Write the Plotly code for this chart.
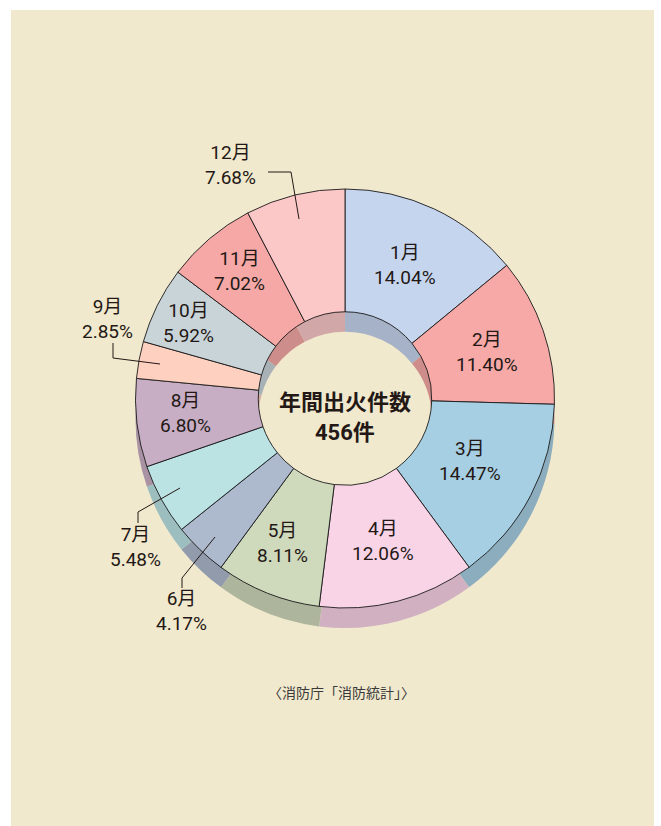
import plotly.graph_objects as go

# Monthly share of annual fires (%), 456 fires in total
months = ["1月", "2月", "3月", "4月", "5月", "6月", "7月", "8月", "9月", "10月", "11月", "12月"]
shares = [14.04, 11.40, 14.47, 12.06, 8.11, 4.17, 5.48, 6.80, 2.85, 5.92, 7.02, 7.68]
total_fires = 456

colors = ["#c6d5ee", "#f6a9a6", "#a7cfe3", "#f9d3e6", "#cfd9bc", "#adb9cd",
          "#bce3e4", "#c8aec4", "#fdd0bf", "#c9d4d9", "#f5a8a6", "#fbc7c7"]

W, H = 661, 826
CX, CY, R = 345, 398.5, 209.5   # pie centre and outer radius (px)
HOLE = 0.414
DEPTH = 20                       # height of the extruded side (px)

FONT_CJK = "Noto Sans CJK JP"
FONT_LABEL = "Roboto, 'Noto Sans CJK JP'"
INK = "#231815"


def px(x):
    return x / W


def py(y):
    return 1 - y / H


def darker(hex_color, f=0.84):
    r, g, b = (int(hex_color[i:i + 2], 16) for i in (1, 3, 5))
    return "#%02x%02x%02x" % (int(r * f), int(g * f), int(b * f))


def domain(dy=0):
    return dict(x=[px(CX - R), px(CX + R)],
                y=[py(CY + R + dy), py(CY - R + dy)])


def text_at(x, y, text, size, family, color=INK):
    return dict(x=px(x), y=py(y), text=text, showarrow=False,
                xref="paper", yref="paper", xanchor="center", yanchor="middle",
                font=dict(family=family, size=size, color=color))


fig = go.Figure()

# side wall of the ring: same pie, darker, pushed down
fig.add_trace(go.Pie(
    values=shares, labels=months, sort=False, direction="clockwise",
    rotation=0, hole=HOLE, domain=domain(DEPTH), textinfo="none",
    marker=dict(colors=[darker(c) for c in colors], line=dict(width=0)),
    hoverinfo="skip", showlegend=False,
))

# top face of the ring
fig.add_trace(go.Pie(
    values=shares, labels=months, sort=False, direction="clockwise",
    rotation=0, hole=HOLE, domain=domain(0), textinfo="none",
    marker=dict(colors=colors, line=dict(color="#1a1a1a", width=0.9)),
    hovertemplate="%{label}: %{value:.2f}%<extra></extra>", showlegend=False,
))

# label block centres (px); slices that are too thin get a leader line
label_pos = [(405, 265), (487, 352), (470, 461), (383, 541), (282, 543),
             (181, 611), (135, 547), (186, 413), (107, 319), (188, 323),
             (239, 271), (230, 165)]

annotations = []
for name, val, (lx, ly) in zip(months, shares, label_pos):
    annotations.append(text_at(lx, ly, f"{name}<br>{val:.2f}%", 19, FONT_LABEL))

# centre caption
annotations.append(text_at(CX, 400, "<b>年間出火件数</b>", 22, FONT_CJK))
annotations.append(text_at(CX, 432, f"<b>{total_fires}件</b>", 22, FONT_LABEL))

# source note
annotations.append(text_at(342, 692, "〈消防庁「消防統計」〉", 14, FONT_CJK, "#3a3a3a"))

leaders = [
    [(268, 172), (291, 172), (299, 219)],   # 12月
    [(113, 343), (113, 358), (160, 364)],   # 9月
    [(180, 488), (138, 512), (138, 523)],   # 7月
    [(215, 537), (182, 578), (182, 588)],   # 6月
]

shapes = [dict(type="rect", xref="paper", yref="paper", layer="below",
               x0=px(11), x1=px(654), y0=py(826), y1=py(10),
               fillcolor="#f1e9cd", line=dict(width=0))]
for pts in leaders:
    path = "M " + " L ".join(f"{px(x)},{py(y)}" for x, y in pts)
    shapes.append(dict(type="path", xref="paper", yref="paper", path=path,
                       line=dict(color=INK, width=1)))

fig.update_layout(
    width=W, height=H, margin=dict(l=0, r=0, t=0, b=0),
    paper_bgcolor="white", plot_bgcolor="white",
    annotations=annotations, shapes=shapes, showlegend=False,
)

fig.write_html("out.html")
